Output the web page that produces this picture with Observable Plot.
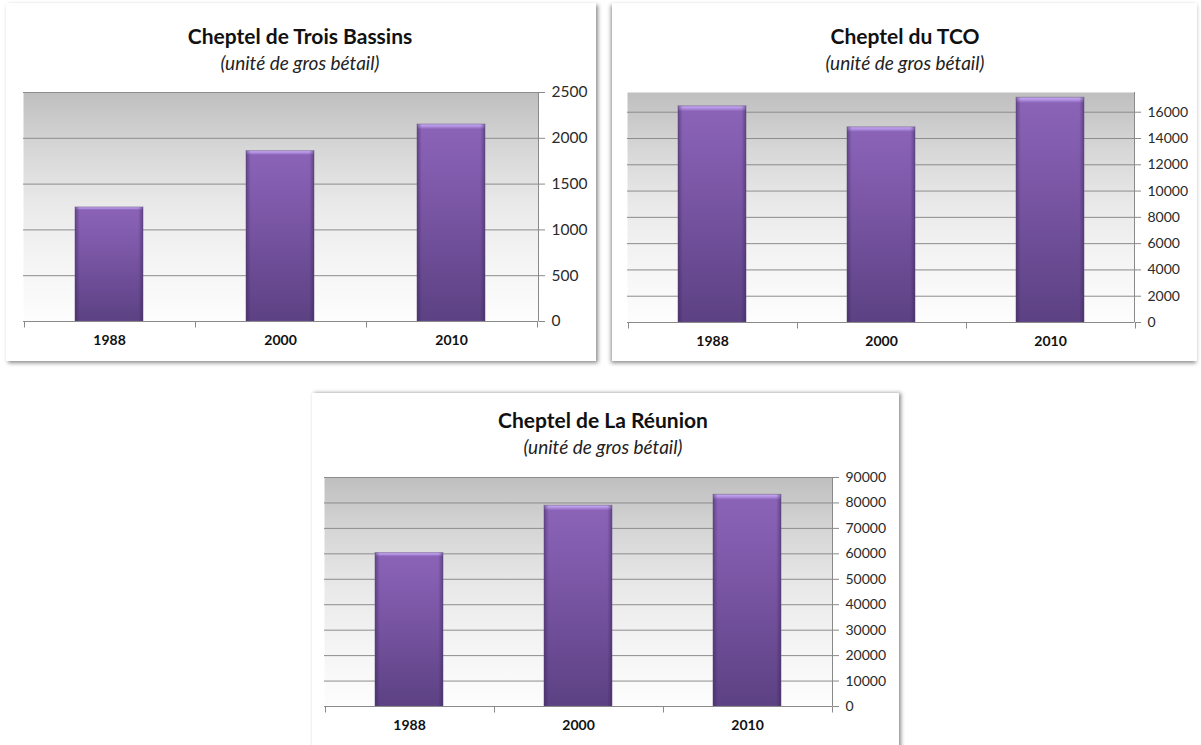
<!DOCTYPE html>
<html>
<head>
<meta charset="utf-8">
<script src="https://cdn.jsdelivr.net/npm/d3@7"></script>
<script src="https://cdn.jsdelivr.net/npm/@observablehq/plot@0.6"></script>
<style>
  html, body { margin: 0; padding: 0; background: #fff; }
  body { width: 1201px; height: 745px; position: relative; overflow: hidden; font-family: Lato, "Open Sans", sans-serif; }
  .panel { position: absolute; background: #fff; box-shadow: 2px 2px 4px rgba(0,0,0,0.45); }
  .title { position: absolute; transform: translate(-50%, -50%); white-space: nowrap; font-weight: bold; font-size: 21px; color: #111; }
  .sub { position: absolute; transform: translate(-50%, -50%); white-space: nowrap; font-style: italic; font-size: 19px; color: #222; }
  .chart { position: absolute; }
</style>
</head>
<body>
<script>
// ---- data ----
const years = ["1988", "2000", "2010"];
const troisBassins = [1245, 1860, 2150];
const tco = [16450, 14850, 17100];
const reunion = [60300, 78900, 83200];
const ticksTroisBassins = [0, 500, 1000, 1500, 2000, 2500];
const ticksTco = [0, 2000, 4000, 6000, 8000, 10000, 12000, 14000, 16000];
const ticksReunion = [0, 10000, 20000, 30000, 40000, 50000, 60000, 70000, 80000, 90000];
const titles = ["Cheptel de Trois Bassins", "Cheptel du TCO", "Cheptel de La Réunion"];
const subtitle = "(unité de gros bétail)";

const NS = "http://www.w3.org/2000/svg";

function el(tag, attrs) {
  const e = document.createElementNS(NS, tag);
  for (const k in attrs) e.setAttribute(k, attrs[k]);
  return e;
}

function defsMark(id) {
  return () => {
    const defs = el("defs", {});
    const bg = el("linearGradient", {id: "bg" + id, x1: 0, y1: 0, x2: 0, y2: 1});
    [["0", "#bfbfbf"], ["0.25", "#d7d7d7"], ["0.5", "#eaeaea"], ["0.75", "#f5f5f5"], ["1", "#fdfdfd"]]
      .forEach(([o, c]) => bg.appendChild(el("stop", {offset: o, "stop-color": c})));
    const bar = el("linearGradient", {id: "bar" + id, x1: 0, y1: 0, x2: 0, y2: 1});
    [["0", "#c9adf2"], ["0.012", "#b08fe0"], ["0.025", "#8a63b7"], ["0.35", "#7d58a8"], ["1", "#5c4183"]]
      .forEach(([o, c]) => bar.appendChild(el("stop", {offset: o, "stop-color": c})));
    const side = el("linearGradient", {id: "side" + id, x1: 0, y1: 0, x2: 1, y2: 0});
    [["0", 0.45], ["0.07", 0], ["0.93", 0], ["1", 0.45]]
      .forEach(([o, a]) => side.appendChild(el("stop", {offset: o, "stop-color": "rgb(50,30,80)", "stop-opacity": a})));
    defs.appendChild(bg); defs.appendChild(bar); defs.appendChild(side);
    return defs;
  };
}

// axis lines: baseline, right vertical axis, category boundary ticks
function axisLinesMark(cats) {
  return (index, scales, values, dims) => {
    const {width, marginLeft, marginRight, marginTop} = dims;
    const g = el("g", {stroke: "#8a8a8a", "stroke-width": 1, fill: "none"});
    const x = scales.x, y = scales.y;
    const y0 = Math.round(y(0)) + 0.5;
    const right = width - marginRight;
    g.appendChild(el("line", {x1: marginLeft, x2: right, y1: y0, y2: y0}));
    g.appendChild(el("line", {x1: right + 0.5, x2: right + 0.5, y1: marginTop, y2: y0}));
    const bw = typeof x.bandwidth === "function" ? x.bandwidth() : 0;
    const centers = cats.map(c => x(c) + bw / 2);
    const step = centers[1] - centers[0];
    const bounds = centers.map(c => c - step / 2).concat([centers[centers.length - 1] + step / 2]);
    bounds.forEach(b => {
      const bx = Math.round(b) + 0.5;
      g.appendChild(el("line", {x1: bx, x2: bx, y1: y0, y2: y0 + 6}));
    });
    return g;
  };
}

function makeChart(id, values, ticks, yMax, geom) {
  const data = years.map((yr, i) => ({year: yr, value: values[i]}));
  const chart = Plot.plot({
    width: geom.width,
    height: geom.height,
    marginLeft: geom.ml,
    marginRight: geom.mr,
    marginTop: geom.mt,
    marginBottom: geom.mb,
    style: {fontFamily: "Lato, 'Open Sans', sans-serif", fontSize: "14px", background: "transparent", overflow: "visible", color: "#222"},
    x: {domain: years, paddingInner: 0.6, paddingOuter: 0.3, label: null},
    y: {domain: [0, yMax], label: null},
    marks: [
      defsMark(id),
      Plot.frame({fill: `url(#bg${id})`, stroke: null}),
      Plot.ruleY(ticks.filter(t => t > 0), {y: d => d, stroke: "#8c8c8c", strokeWidth: 1}),
      Plot.barY(data, {x: "year", y: "value", fill: `url(#bar${id})`, stroke: "#6e5a8c", strokeOpacity: 0.55, strokeWidth: 1}),
      Plot.barY(data, {x: "year", y: "value", fill: `url(#side${id})`}),
      axisLinesMark(years),
      Plot.axisY(ticks, {anchor: "right", tickSize: 6, tickPadding: 7, stroke: "#8a8a8a", fill: "#2a2a2a", fontSize: geom.tickFont, tickFormat: d => String(d), label: null}),
      Plot.axisX({tickSize: 0, tickPadding: 14, fontWeight: "bold", fontSize: 14, fill: "#111", label: null})
    ]
  });
  chart.classList.add("chart");
  chart.style.left = geom.left + "px";
  chart.style.top = geom.top + "px";
  return chart;
}

function addPanel(l, t, w, h, shadow) {
  const d = document.createElement("div");
  d.className = "panel";
  Object.assign(d.style, {left: l + "px", top: t + "px", width: w + "px", height: h + "px"});
  if (shadow) d.style.boxShadow = shadow;
  document.body.appendChild(d);
}
function addText(cls, txt, cx, cy) {
  const d = document.createElement("div");
  d.className = cls;
  d.textContent = txt;
  Object.assign(d.style, {left: cx + "px", top: cy + "px"});
  document.body.appendChild(d);
}

addPanel(6, 3, 590, 358);
addPanel(612, 3, 585, 358, "-1px 2px 4px rgba(0,0,0,0.45)");
addPanel(312, 393, 587, 360, "2px 0px 4px rgba(0,0,0,0.45)");

addText("title", titles[0], 300, 35);
addText("sub", subtitle, 300, 62);
addText("title", titles[1], 905, 35);
addText("sub", subtitle, 905, 62);
addText("title", titles[2], 603, 419);
addText("sub", subtitle, 603, 446);

document.body.appendChild(makeChart(1, troisBassins, ticksTroisBassins, 2500,
  {left: 0, top: 80, width: 600, height: 290, ml: 23, mr: 62, mt: 12, mb: 49, tickFont: 15.5}));
document.body.appendChild(makeChart(2, tco, ticksTco, 17500,
  {left: 600, top: 80, width: 601, height: 290, ml: 27, mr: 67, mt: 12, mb: 48, tickFont: 14}));
document.body.appendChild(makeChart(3, reunion, ticksReunion, 90000,
  {left: 300, top: 465, width: 610, height: 280, ml: 24, mr: 78, mt: 12, mb: 39, tickFont: 14}));
</script>
</body>
</html>
